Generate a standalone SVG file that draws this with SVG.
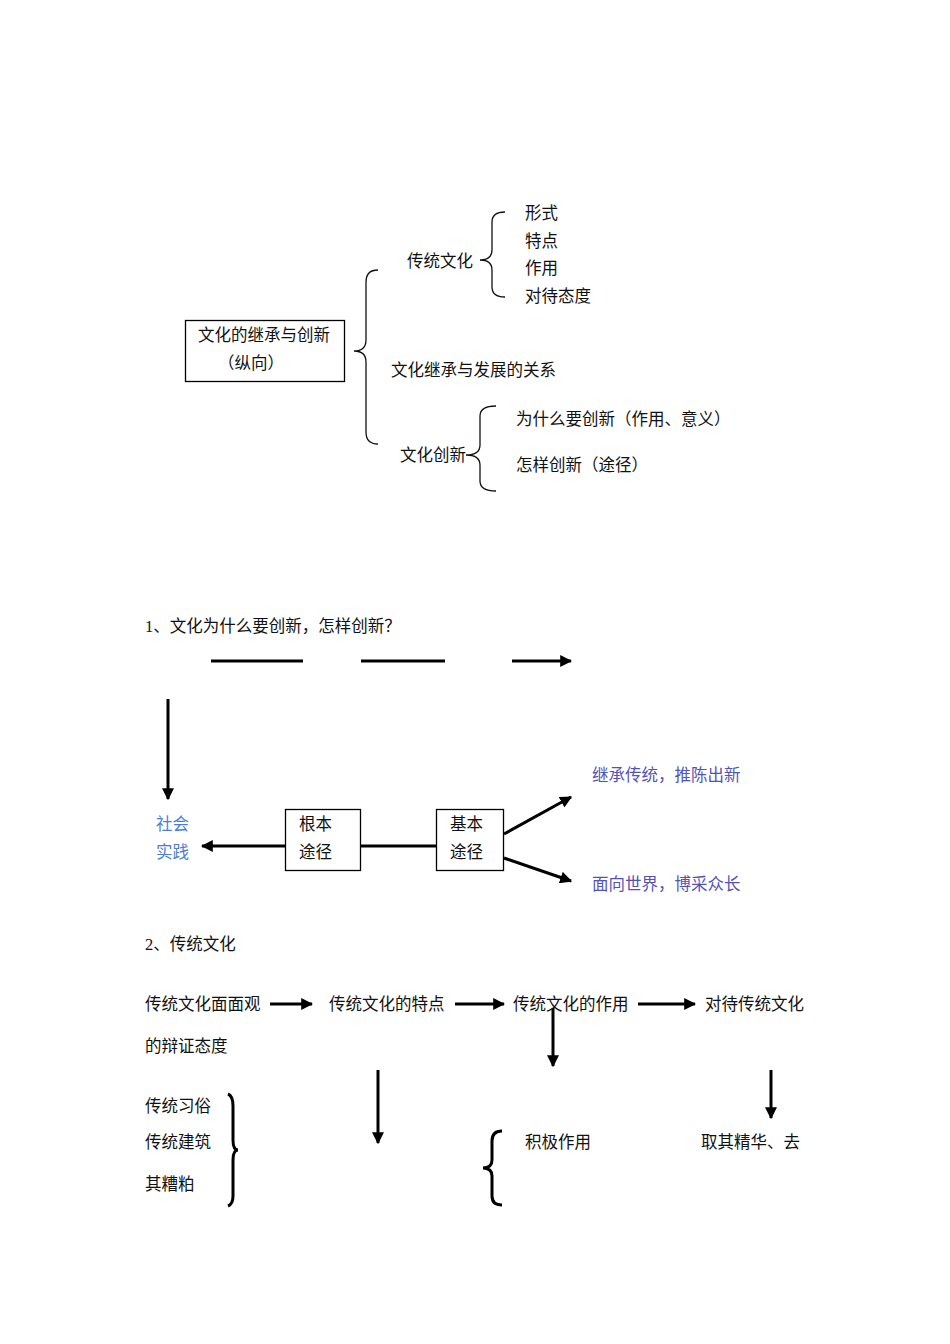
<svg xmlns="http://www.w3.org/2000/svg" width="950" height="1344" viewBox="0 0 950 1344">
<style>
text{font-family:"Liberation Serif","Noto Sans CJK SC",serif;font-size:16.5px;fill:#111}
.b1{fill:#4a7fd6}.b2{fill:#5353b5}
.br{fill:none;stroke:#111;stroke-width:1.3}
.bk{fill:none;stroke:#000;stroke-width:3}
.ln{stroke:#000;stroke-width:3;fill:none}
.bx{fill:#fff;stroke:#000;stroke-width:1.3}
</style>
<defs>
<marker id="ah" viewBox="0 0 10 10" refX="9" refY="5" markerWidth="4" markerHeight="4" orient="auto" markerUnits="strokeWidth"><path d="M0,0L10,5L0,10Z" fill="#000"/></marker>
</defs>
<rect width="950" height="1344" fill="#fff"/>
<g id="connectors">
<path class="br" d="M378,270 Q366,270 366,282 L366,340 Q366,351 354,351 Q366,351 366,362 L366,432 Q366,444 378,444"/>
<path class="br" d="M505,212 Q492,212 492,222 L492,250 Q492,260 480,260 Q492,260 492,270 L492,287 Q492,297 505,297"/>
<path class="br" d="M496,406 Q480,406 480,416 L480,445 Q480,455 466,455 Q480,455 480,465 L480,481 Q480,491 496,491"/>
<line class="ln" x1="211" y1="661" x2="303" y2="661"/>
<line class="ln" x1="361" y1="661" x2="445" y2="661"/>
<line class="ln" x1="512" y1="661" x2="571" y2="661" marker-end="url(#ah)"/>
<line class="ln" x1="168" y1="699" x2="168" y2="799" marker-end="url(#ah)"/>
<line class="ln" x1="285" y1="846" x2="202" y2="846" marker-end="url(#ah)"/>
<line class="ln" x1="361" y1="846" x2="436" y2="846"/>
<line class="ln" x1="504" y1="834" x2="571" y2="797" marker-end="url(#ah)"/>
<line class="ln" x1="504" y1="858" x2="571" y2="881" marker-end="url(#ah)"/>
<line class="ln" x1="270" y1="1004" x2="312" y2="1004" marker-end="url(#ah)"/>
<line class="ln" x1="455" y1="1004" x2="504" y2="1004" marker-end="url(#ah)"/>
<line class="ln" x1="638" y1="1004" x2="695" y2="1004" marker-end="url(#ah)"/>
<line class="ln" x1="553" y1="1008" x2="553" y2="1066" marker-end="url(#ah)"/>
<line class="ln" x1="378" y1="1070" x2="378" y2="1143" marker-end="url(#ah)"/>
<line class="ln" x1="771" y1="1070" x2="771" y2="1118" marker-end="url(#ah)"/>
<path class="bk" d="M228,1094 Q233,1096 233,1106 L233,1140 Q233,1150 238,1150 Q233,1150 233,1160 L233,1196 Q233,1204 228,1206"/>
<path class="bk" d="M502,1131 Q492,1131 492,1141 L492,1160 Q492,1168 483,1168 Q492,1168 492,1176 L492,1196 Q492,1205 502,1205"/>
</g>
<g id="n-main"><rect class="bx" x="185.5" y="320.5" width="159" height="61"/><text x="198" y="341">文化的继承与创新</text><text x="218" y="369">（纵向）</text></g>
<g id="n-ctwh"><text x="407" y="267">传统文化</text></g>
<g id="n-items1"><text x="525" y="219">形式</text><text x="525" y="247">特点</text><text x="525" y="274">作用</text><text x="525" y="302">对待态度</text></g>
<g id="n-rel"><text x="391" y="376">文化继承与发展的关系</text></g>
<g id="n-cx"><text x="400" y="461">文化创新</text></g>
<g id="n-items2"><text x="516" y="425">为什么要创新（作用、意义）</text><text x="516" y="471">怎样创新（途径）</text></g>
<g id="n-t1"><text x="145" y="632">1、文化为什么要创新，怎样创新？</text></g>
<g id="n-shsj"><text class="b1" x="156" y="830">社会</text><text class="b1" x="156" y="858">实践</text></g>
<g id="n-gb"><rect class="bx" x="285.5" y="809.5" width="75" height="61"/><text x="299" y="830">根本</text><text x="299" y="858">途径</text></g>
<g id="n-jb"><rect class="bx" x="436.5" y="809.5" width="67" height="61"/><text x="450" y="830">基本</text><text x="450" y="858">途径</text></g>
<g id="n-jc"><text class="b2" x="592" y="781">继承传统，推陈出新</text></g>
<g id="n-mx"><text class="b2" x="592" y="890">面向世界，博采众长</text></g>
<g id="n-t2"><text x="145" y="950">2、传统文化</text></g>
<g id="n-r1"><text x="145" y="1010">传统文化面面观</text><text x="145" y="1052">的辩证态度</text></g>
<g id="n-r2"><text x="329" y="1010">传统文化的特点</text></g>
<g id="n-r3"><text x="513" y="1010">传统文化的作用</text></g>
<g id="n-r4"><text x="705" y="1010">对待传统文化</text></g>
<g id="n-l"><text x="145" y="1112">传统习俗</text><text x="145" y="1148">传统建筑</text><text x="145" y="1190">其糟粕</text></g>
<g id="n-jj"><text x="525" y="1148">积极作用</text></g>
<g id="n-qq"><text x="701" y="1148">取其精华、去</text></g>
</svg>
